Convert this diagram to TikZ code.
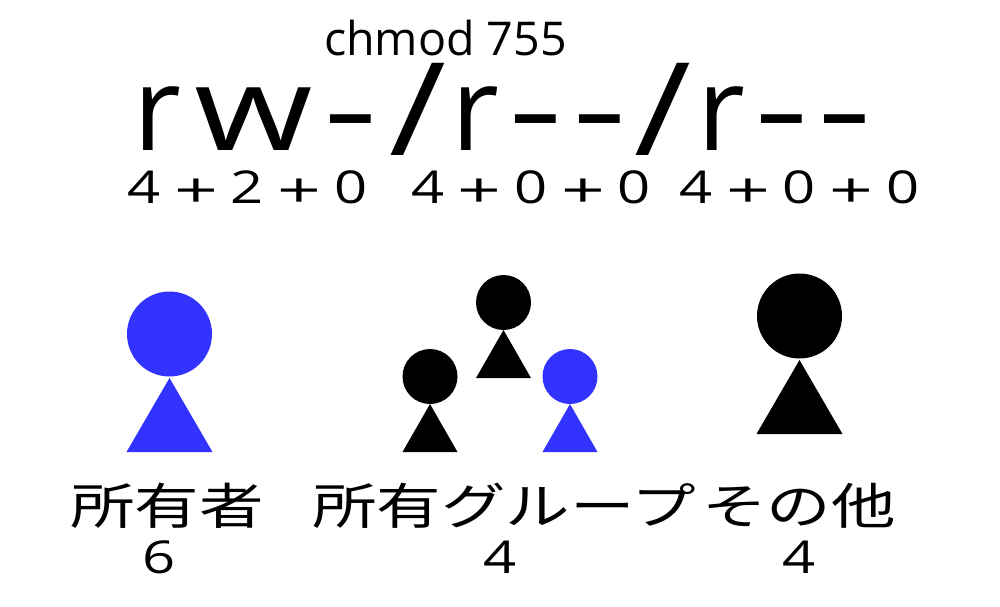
\documentclass[tikz,border=0pt]{standalone}
\usepackage{fontspec}
\setmainfont{Open Sans}
\newfontfamily\cjk{Noto Sans CJK JP}
\definecolor{pblue}{RGB}{51,51,255}
\tikzset{
  lab/.style={inner sep=0pt,anchor=base,text=black,transform shape},
  bigr/.style={lab,font=\fontsize{88}{88}\selectfont},
  bigw/.style={lab,xscale=1.3,font=\fontsize{88}{88}\selectfont},
  bigh/.style={lab,xscale=1.45,font=\fontsize{88}{88}\selectfont},
  bigs/.style={lab,xscale=1.2,font=\fontsize{97}{97}\selectfont},
  digit/.style={lab,xscale=1.28,font=\fontsize{34}{34}\selectfont},
  plus/.style={lab,xscale=1.6,font=\fontsize{36}{36}\selectfont},
  jp/.style={lab,anchor=center,xscale=1.31,font=\cjk\fontsize{37}{37}\selectfont}
}
\begin{document}
\begin{tikzpicture}[x=0.0264cm,y=-0.0264cm]
\useasboundingbox (0,0) rectangle (1000,606);
\node[lab,font=\fontsize{35}{35}\selectfont] (cmd) at (445.5,55) {chmod 755};
% big letters
\node[bigr] (r1) at (157.5,150) {r};
\node[bigw] (w1) at (254,150) {w};
\node[bigh] (h1) at (351,150) {-};
\node[bigs] (s1) at (418,155) {/};
\node[bigr] (r2) at (475.5,150) {r};
\node[bigh] (h2) at (536,150) {-};
\node[bigh] (h3) at (600,150) {-};
\node[bigs] (s2) at (663,155) {/};
\node[bigr] (r3) at (721.5,150) {r};
\node[bigh] (h4) at (782,150) {-};
\node[bigh] (h5) at (845,150) {-};
% numbers
\foreach \t/\x/\n in {4/144/a,2/247/c,0/351/e,4/428/f,0/531/h,0/634/j,4/696/k,0/799/m,0/903/o}{
  \node[digit] (num\n) at (\x,203) {\t};
}
\foreach \x/\n in {196/b,299/d,479/g,583/i,748/l,851/n}{
  \node[plus] (num\n) at (\x,207) {+};
}
% people
\fill[pblue] (169.5,334) circle (42.5);
\fill[pblue] (169.5,378) -- (212.5,452) -- (126.5,452) -- cycle;
\fill (430,376.5) circle (27.5);
\fill (430,404) -- (457.5,452) -- (402.5,452) -- cycle;
\fill (503.5,302.5) circle (27.5);
\fill (503.5,330) -- (531,378) -- (476,378) -- cycle;
\fill[pblue] (570,376.5) circle (27.5);
\fill[pblue] (570,404) -- (597.5,452) -- (542.5,452) -- cycle;
\fill (799.5,316) circle (42.5);
\fill (799.5,360) -- (842.5,434) -- (756.5,434) -- cycle;
% labels
\node[jp] (l1) at (167,506) {所有者};
\node[jp] (l2) at (504,506) {所有グループ};
\node[jp] (l3) at (799,506) {その他};
\node[digit] (n1) at (159.5,573) {6};
\node[digit] (n2) at (500,573) {4};
\node[digit] (n3) at (799.5,573) {4};
\end{tikzpicture}
\end{document}
